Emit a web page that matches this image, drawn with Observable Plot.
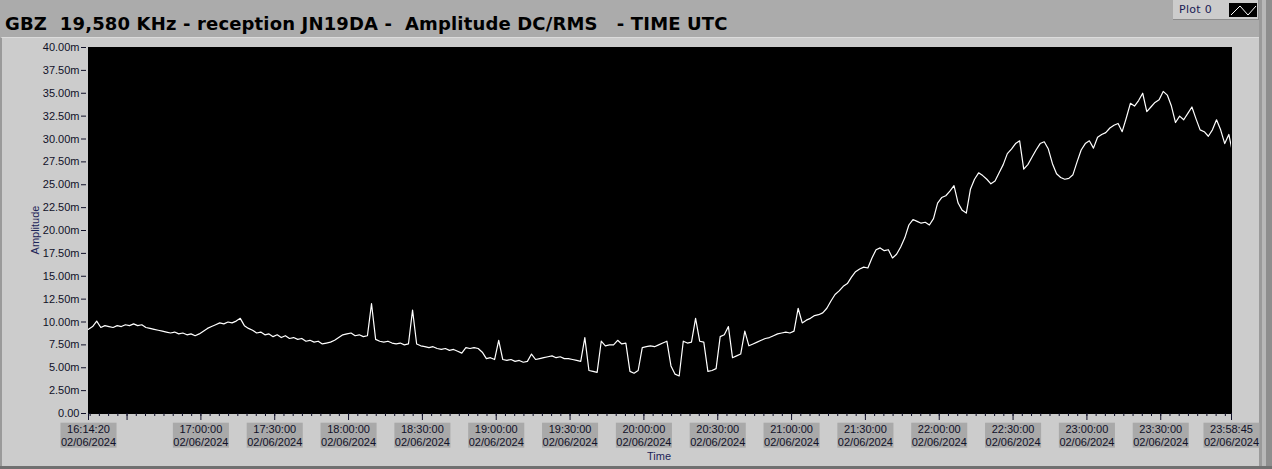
<!DOCTYPE html>
<html><head><meta charset="utf-8">
<script src="https://cdn.jsdelivr.net/npm/d3@7"></script>
<script src="https://cdn.jsdelivr.net/npm/@observablehq/plot@0.6"></script>
<style>
body{margin:0;width:1272px;height:469px;background:#ababab;position:relative;overflow:hidden;font-family:"Liberation Sans",Arial,sans-serif}
#title{position:absolute;left:5px;top:13px;font:bold 18px "DejaVu Sans",sans-serif;white-space:pre;color:#000;line-height:21px;letter-spacing:0.15px}
#legend{position:absolute;left:1173px;top:0;width:86px;height:20px;background:#cccccc;border-bottom:1px solid #8c8c8c;border-right:1px solid #8c8c8c;box-sizing:border-box}
#legend .lbl{position:absolute;left:6px;top:3px;font:11px "DejaVu Sans",sans-serif;color:#1a1a55;letter-spacing:0.3px}
#legend svg{position:absolute;left:56px;top:3px}
#rband{position:absolute;left:1259px;top:0;width:13px;height:469px;background:linear-gradient(to right,#9a9a9a 0,#9a9a9a 3px,#b8b8b8 3px,#b8b8b8 7px,#8e8e8e 7px)}
#panel{position:absolute;left:0;top:37px;width:1259px;height:430px;background:#cccccc;border-top:1px solid #dcdcdc;border-left:2px solid #9a9a9a;box-sizing:border-box}
#bband{position:absolute;left:0;top:466px;width:1272px;height:3px;background:#707070}
#chart{position:absolute;left:0;top:37px}
#ylab{position:absolute;left:35px;top:230px;transform:translate(-50%,-50%) rotate(-90deg);font:11px "Liberation Sans",Arial,sans-serif;color:#1c2458;white-space:nowrap}
#xlab{position:absolute;left:659px;top:456px;transform:translate(-50%,-50%);font:11px "Liberation Sans",Arial,sans-serif;color:#1c2458;white-space:nowrap}
</style></head>
<body>
<div id="title">GBZ  19,580 KHz - reception JN19DA -  Amplitude DC/RMS   - TIME UTC</div>
<div id="legend"><span class="lbl">Plot 0</span><svg width="28" height="14"><rect width="28" height="14" fill="#000"/><polyline points="2,12 11,3 19,12 27,3" fill="none" stroke="#fff" stroke-width="1"/></svg></div>
<div id="rband"></div>
<div id="panel"></div>
<div id="bband"></div>
<div id="chart"></div>
<div id="ylab">Amplitude</div>
<div id="xlab">Time</div>
<script>
// ---- data ----
const startTime = "2024-06-02T16:14:20Z";
const endTime = "2024-06-02T23:58:45Z";
const sampleSeconds = 100;
const amplitude_mV = [
  9.2, 9.5, 10.1, 9.4, 9.6, 9.5, 9.4, 9.6, 9.5, 9.7,
  9.6, 9.8, 9.6, 9.7, 9.4, 9.3, 9.2, 9.1, 9.0, 8.9,
  8.8, 8.9, 8.7, 8.8, 8.6, 8.7, 8.5, 8.7, 9.0, 9.3,
  9.5, 9.7, 9.9, 9.8, 10.0, 9.9, 10.1, 10.4, 9.6, 9.3,
  9.1, 8.8, 8.9, 8.6, 8.7, 8.4, 8.6, 8.3, 8.5, 8.2,
  8.3, 8.1, 8.2, 7.9, 8.0, 7.8, 7.9, 7.6, 7.7, 7.8,
  8.0, 8.3, 8.6, 8.7, 8.8, 8.5, 8.6, 8.4, 8.5, 12.0,
  8.1, 7.9, 7.8, 7.9, 7.7, 7.6, 7.7, 7.5, 7.6, 11.3,
  7.6, 7.4, 7.3, 7.2, 7.3, 7.1, 7.0, 7.1, 6.9, 7.0,
  6.8, 6.6, 7.2, 7.1, 7.2, 7.1, 6.7, 6.0, 6.1, 5.9,
  8.0, 5.9, 5.8, 5.9, 5.7, 5.8, 5.6, 5.7, 6.5, 5.9,
  6.0, 6.1, 6.2, 6.3, 6.1, 6.2, 6.0, 6.0, 5.9, 5.8,
  5.7, 8.3, 4.7, 4.6, 4.5, 7.9, 7.4, 7.5, 7.5, 8.0,
  7.6, 7.7, 4.6, 4.4, 4.7, 7.2, 7.3, 7.4, 7.3, 7.5,
  7.7, 7.9, 5.2, 4.3, 4.1, 7.9, 7.7, 7.8, 10.4, 7.9,
  7.8, 4.6, 4.7, 4.9, 8.4, 8.6, 9.5, 6.1, 6.3, 6.5,
  9.0, 7.4, 7.6, 7.8, 8.0, 8.2, 8.3, 8.5, 8.7, 8.8,
  8.9, 8.8, 9.0, 11.5, 9.9, 10.2, 10.4, 10.7, 10.8, 11.0,
  11.5, 12.3, 13.0, 13.4, 13.9, 14.2, 14.9, 15.5, 15.8, 16.0,
  15.9, 17.0, 17.9, 18.1, 17.8, 17.9, 17.0, 17.4, 18.2, 19.2,
  20.6, 21.2, 21.0, 20.8, 20.9, 20.6, 21.3, 23.0, 23.6, 23.8,
  24.3, 24.9, 23.0, 22.2, 21.9, 24.5, 25.6, 26.3, 26.0, 25.6,
  25.1, 25.4, 26.3, 27.2, 28.4, 28.9, 29.5, 29.8, 26.7, 27.2,
  28.0, 28.8, 29.5, 29.7, 28.9, 27.3, 26.2, 25.8, 25.6, 25.7,
  26.1, 27.5, 28.8, 29.5, 29.8, 29.0, 30.2, 30.5, 30.7, 31.2,
  31.5, 31.7, 30.8, 32.3, 33.9, 33.6, 34.2, 35.0, 33.0, 33.5,
  34.0, 34.3, 35.2, 34.8, 33.6, 31.8, 32.5, 32.1, 32.8, 33.5,
  32.2, 31.0, 30.8, 30.3, 31.0, 32.1, 31.0, 29.5, 30.5, 28.3
];
const yTicks = [0, 2.5, 5, 7.5, 10, 12.5, 15, 17.5, 20, 22.5, 25, 27.5, 30, 32.5, 35, 37.5, 40];
const yTickLabels = ["0.00","2.50m","5.00m","7.50m","10.00m","12.50m","15.00m","17.50m","20.00m","22.50m","25.00m","27.50m","30.00m","32.50m","35.00m","37.50m","40.00m"];
const majorTickTimes = ["16:14:20","16:30:00","17:00:00","17:30:00","18:00:00","18:30:00","19:00:00","19:30:00","20:00:00","20:30:00","21:00:00","21:30:00","22:00:00","22:30:00","23:00:00","23:30:00","23:58:45"];
const xTickLabels = ["16:14:20","17:00:00","17:30:00","18:00:00","18:30:00","19:00:00","19:30:00","20:00:00","20:30:00","21:00:00","21:30:00","22:00:00","22:30:00","23:00:00","23:30:00","23:58:45"];
const xDateLabel = "02/06/2024";
const minorStepSeconds = 225;

// ---- build ----
const t0 = new Date(startTime), tEnd = new Date(endTime);
const toDate = s => new Date("2024-06-02T" + s + "Z");
const series = amplitude_mV.map((v, i) => ({time: new Date(+t0 + i * sampleSeconds * 1000), value: v}));
const majorDates = majorTickTimes.map(toDate);
const labelDates = xTickLabels.map(toDate);
const labelMap = new Map(labelDates.map((d, i) => [+d, xTickLabels[i] + "\n" + xDateLabel]));
const yLabelMap = new Map(yTicks.map((d, i) => [d, yTickLabels[i]]));
const anchor = +toDate("16:30:00");
const minorDates = [];
for (let t = anchor; t >= +t0; t -= minorStepSeconds * 1000) minorDates.push(new Date(t));
for (let t = anchor + minorStepSeconds * 1000; t <= +tEnd; t += minorStepSeconds * 1000) minorDates.push(new Date(t));

const ink = "#101028";
const chart = Plot.plot({
  width: 1262, height: 430,
  marginLeft: 88, marginRight: 31, marginTop: 10, marginBottom: 54,
  style: {background: "transparent", fontFamily: "'Liberation Sans', Arial, sans-serif", fontSize: "11px", color: ink, overflow: "visible"},
  x: {type: "utc", domain: [t0, tEnd]},
  y: {domain: [0, 40]},
  marks: [
    Plot.frame({fill: "black", stroke: "black"}),
    Plot.axisY({ticks: yTicks, tickFormat: d => yLabelMap.get(d), tickSize: 5, tickPadding: 2, dx: -2, label: null}),
    Plot.axisX({ticks: minorDates, tickSize: 3, tickFormat: () => "", label: null}),
    Plot.axisX({ticks: majorDates, tickSize: 7, tickFormat: () => "", label: null}),
    Plot.axisX({ticks: labelDates, tickSize: 0, tickPadding: 10, tickFormat: d => labelMap.get(+d), lineHeight: 1.18, label: null}),
    Plot.line(series, {x: "time", y: "value", stroke: "white", strokeWidth: 1.2, clip: true})
  ]
});
document.getElementById("chart").appendChild(chart);

// gray boxes behind the x tick labels
chart.querySelectorAll('g[aria-label="x-axis tick label"]').forEach(g => {
  g.querySelectorAll("text").forEach(t => {
    if (!t.textContent.trim()) return;
    const b = t.getBBox();
    const r = document.createElementNS("http://www.w3.org/2000/svg", "rect");
    r.setAttribute("x", b.x - 0.5); r.setAttribute("y", b.y);
    r.setAttribute("width", b.width + 1); r.setAttribute("height", b.height);
    r.setAttribute("fill", "#a9a9a9");
    if (t.getAttribute("transform")) r.setAttribute("transform", t.getAttribute("transform"));
    g.insertBefore(r, t);
  });
});
</script>
</body></html>
